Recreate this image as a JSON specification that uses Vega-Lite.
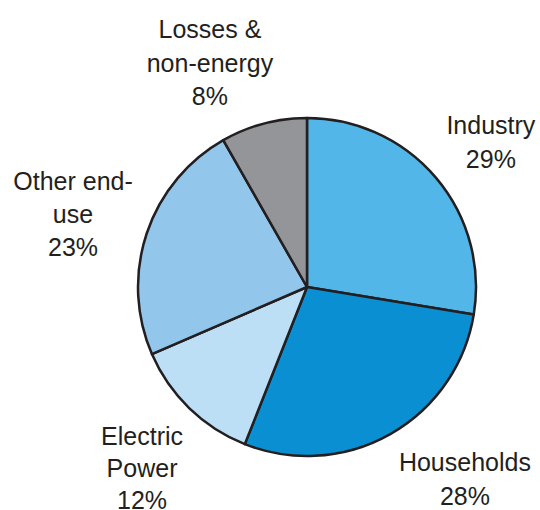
{
  "$schema": "https://vega.github.io/schema/vega-lite/v6.json",
  "autosize": {"type": "none"},
  "width": 464,
  "height": 446,
  "padding": {"left": 75, "top": 64, "right": 0, "bottom": 0},
  "background": "white",
  "config": {"view": {"stroke": null}},
  "data": {
    "values": [
      {"idx": 1, "cat": "Industry", "value": 27.6, "label": "Industry\n29%"},
      {"idx": 2, "cat": "Households", "value": 28.4, "label": "Households\n28%"},
      {"idx": 3, "cat": "Electric Power", "value": 12.5, "label": "Electric\nPower\n12%"},
      {"idx": 4, "cat": "Other end-use", "value": 23.25, "label": "Other end-\nuse\n23%"},
      {"idx": 5, "cat": "Losses & non-energy", "value": 8.25, "label": "Losses &\nnon-energy\n8%"}
    ]
  },
  "encoding": {
    "theta": {"field": "value", "type": "quantitative", "stack": true},
    "order": {"field": "idx", "type": "quantitative"}
  },
  "layer": [
    {
      "mark": {"type": "arc", "outerRadius": 169, "stroke": "#231f20", "strokeWidth": 2.5, "strokeJoin": "round"},
      "encoding": {
        "color": {
          "field": "cat", "type": "nominal", "legend": null,
          "scale": {
            "domain": ["Industry", "Households", "Electric Power", "Other end-use", "Losses & non-energy"],
            "range": ["#53b6e8", "#0a8fd2", "#bddff5", "#92c6ea", "#939598"]
          }
        }
      }
    },
    {
      "mark": {"type": "text", "radius": 244.5, "thetaOffset": -0.016, "font": "Liberation Sans", "fontSize": 25, "lineHeight": 34, "lineBreak": "\n", "align": "center", "baseline": "middle", "color": "#231f20"},
      "encoding": {"text": {"condition": {"test": "datum.cat === 'Industry'", "field": "label"}, "value": ""}}
    },
    {
      "mark": {"type": "text", "radius": 236.5, "thetaOffset": -0.216, "font": "Liberation Sans", "fontSize": 25, "lineHeight": 34, "lineBreak": "\n", "align": "center", "baseline": "middle", "color": "#231f20"},
      "encoding": {"text": {"condition": {"test": "datum.cat === 'Households'", "field": "label"}, "value": ""}}
    },
    {
      "mark": {"type": "text", "radius": 223, "thetaOffset": 0.063, "font": "Liberation Sans", "fontSize": 25, "lineHeight": 32, "lineBreak": "\n", "align": "center", "baseline": "middle", "color": "#231f20"},
      "encoding": {"text": {"condition": {"test": "datum.cat === 'Electric Power'", "field": "label"}, "value": ""}}
    },
    {
      "mark": {"type": "text", "radius": 256.5, "thetaOffset": 0.1, "font": "Liberation Sans", "fontSize": 25, "lineHeight": 33, "lineBreak": "\n", "align": "center", "baseline": "middle", "color": "#231f20"},
      "encoding": {"text": {"condition": {"test": "datum.cat === 'Other end-use'", "field": "label"}, "value": ""}}
    },
    {
      "mark": {"type": "text", "radius": 274.7, "thetaOffset": -0.102, "font": "Liberation Sans", "fontSize": 25, "lineHeight": 33.5, "lineBreak": "\n", "align": "center", "baseline": "middle", "color": "#231f20"},
      "encoding": {"text": {"condition": {"test": "datum.cat === 'Losses & non-energy'", "field": "label"}, "value": ""}}
    }
  ]
}
